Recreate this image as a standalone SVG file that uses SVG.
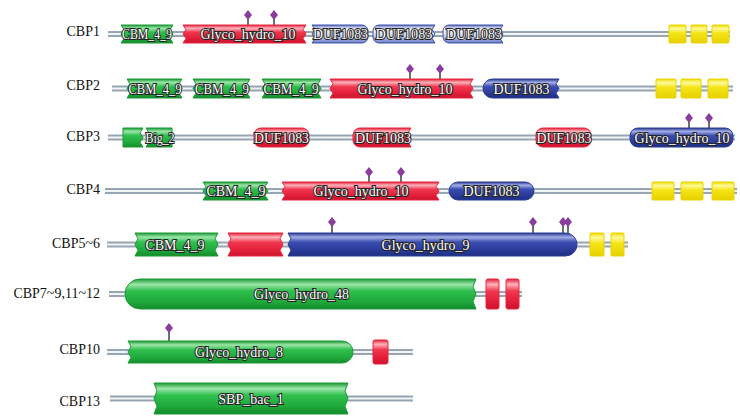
<svg xmlns="http://www.w3.org/2000/svg" width="740" height="418" viewBox="0 0 740 418">
<defs>
<linearGradient id="gG" x1="0" y1="0" x2="0" y2="1"><stop offset="0" stop-color="#1d9a36"/><stop offset="0.18" stop-color="#9be6a8"/><stop offset="0.4" stop-color="#2fbf4d"/><stop offset="0.75" stop-color="#1faa3c"/><stop offset="1" stop-color="#158a2e"/></linearGradient>
<linearGradient id="gR" x1="0" y1="0" x2="0" y2="1"><stop offset="0" stop-color="#e0203a"/><stop offset="0.18" stop-color="#ffb3bb"/><stop offset="0.4" stop-color="#f0384f"/><stop offset="0.75" stop-color="#e31d38"/><stop offset="1" stop-color="#c81530"/></linearGradient>
<linearGradient id="gB" x1="0" y1="0" x2="0" y2="1"><stop offset="0" stop-color="#24378c"/><stop offset="0.18" stop-color="#a3aee8"/><stop offset="0.4" stop-color="#3a4db0"/><stop offset="0.75" stop-color="#2a3b99"/><stop offset="1" stop-color="#1e2e80"/></linearGradient>
<linearGradient id="gL" x1="0" y1="0" x2="0" y2="1"><stop offset="0" stop-color="#5a6cc0"/><stop offset="0.22" stop-color="#ffffff"/><stop offset="0.55" stop-color="#d3daf5"/><stop offset="1" stop-color="#6a7cc8"/></linearGradient>
<linearGradient id="gY" x1="0" y1="0" x2="0" y2="1"><stop offset="0" stop-color="#f0dc00"/><stop offset="0.2" stop-color="#fffa9a"/><stop offset="0.45" stop-color="#f5e516"/><stop offset="1" stop-color="#e6d000"/></linearGradient>
<style>
.g{fill:url(#gG);stroke:#1a9a35;stroke-width:1}
.r{fill:url(#gR);stroke:#e8243e;stroke-width:1}
.b{fill:url(#gB);stroke:#2b3c96;stroke-width:1}
.l{fill:url(#gL);stroke:#3d50a8;stroke-width:1}
.y{fill:url(#gY);stroke:#e8d400;stroke-width:1}
.bb{stroke:#97a5b2;stroke-width:6;fill:none}
.bc{stroke:#f2f5f7;stroke-width:1.8;fill:none}
.rl{font-family:"Liberation Serif","Times New Roman",serif;font-size:14px;fill:#111;text-anchor:end}
.dl{font-family:"Liberation Serif","Times New Roman",serif;font-size:14px;fill:#fff;stroke:#222;stroke-width:2;paint-order:stroke;text-anchor:middle}
.st{stroke:#222;stroke-width:1.3}
.dm{fill:#8b3d9e}
</style>
</defs>
<rect width="740" height="418" fill="#fff"/>
<g id="labels">
<text class="rl" x="100" y="36">CBP1</text>
<text class="rl" x="100" y="90">CBP2</text>
<text class="rl" x="100" y="141">CBP3</text>
<text class="rl" x="100" y="194">CBP4</text>
<text class="rl" x="100" y="248">CBP5~6</text>
<text class="rl" x="100" y="298">CBP7~9,11~12</text>
<text class="rl" x="100" y="354">CBP10</text>
<text class="rl" x="100" y="406">CBP13</text>
</g>
<g id="connectors">
<path class="bb" d="M108,34H730M112,88.5H733M108,137.5H735M105,191H737M107,244.5H628M109,294H522M107,352H413M110,398.5H413"/>
<path class="bc" d="M108,34H730M112,88.5H733M108,137.5H735M105,191H737M107,244.5H628M109,294H522M107,352H413M110,398.5H413"/>
</g>
<g id="CBP1">
<path class="g" d="M121,25H173L170,29.5L173,34L170,38.5L173,43H121L124,38.5L121,34L124,29.5Z"/>
<text class="dl" x="147" y="39" textLength="50" lengthAdjust="spacingAndGlyphs">CBM_4_9</text>
<path class="st" d="M248,19V25M274,19V25"/>
<path class="dm" d="M248,10L252,15L248,20L244,15ZM274,10L278,15L274,20L270,15Z"/>
<path class="r" d="M183,25H306L303,29.5L306,34L303,38.5L306,43H183L186,38.5L183,34L186,29.5Z"/>
<text class="dl" x="248" y="39">Glyco_hydro_10</text>
<path class="l" d="M312,25H362A6,6 0 0 1 368,31V37A6,6 0 0 1 362,43H312L315,38.5L312,34L315,29.5Z"/>
<text class="dl" x="340.5" y="39" textLength="55" lengthAdjust="spacingAndGlyphs">DUF1083</text>
<path class="l" d="M379,25H435L432,29.5L435,34L432,38.5L435,43H379A6,6 0 0 1 373,37V31A6,6 0 0 1 379,25Z"/>
<text class="dl" x="404" y="39" textLength="57" lengthAdjust="spacingAndGlyphs">DUF1083</text>
<path class="l" d="M449,25H503L500,29.5L503,34L500,38.5L503,43H449A6,6 0 0 1 443,37V31A6,6 0 0 1 449,25Z"/>
<text class="dl" x="474" y="39" textLength="56" lengthAdjust="spacingAndGlyphs">DUF1083</text>
<rect class="y" x="669" y="25" width="17" height="18" rx="1"/>
<rect class="y" x="691" y="25" width="16" height="18" rx="1"/>
<rect class="y" x="712" y="25" width="17" height="18" rx="1"/>
</g>
<g id="CBP2">
<path class="g" d="M127,79H182L179,83.75L182,88.5L179,93.25L182,98H127L130,93.25L127,88.5L130,83.75Z"/>
<text class="dl" x="155" y="93.5" textLength="53" lengthAdjust="spacingAndGlyphs">CBM_4_9</text>
<path class="g" d="M193,79H250L247,83.75L250,88.5L247,93.25L250,98H193L196,93.25L193,88.5L196,83.75Z"/>
<text class="dl" x="222" y="93.5" textLength="54" lengthAdjust="spacingAndGlyphs">CBM_4_9</text>
<path class="g" d="M262,79H321L318,83.75L321,88.5L318,93.25L321,98H262L265,93.25L262,88.5L265,83.75Z"/>
<text class="dl" x="291" y="93.5" textLength="55" lengthAdjust="spacingAndGlyphs">CBM_4_9</text>
<path class="st" d="M410,73V79M440,73V79"/>
<path class="dm" d="M410,64L414,69L410,74L406,69ZM440,64L444,69L440,74L436,69Z"/>
<path class="r" d="M330,79H473L470,83.75L473,88.5L470,93.25L473,98H330L333,93.25L330,88.5L333,83.75Z"/>
<text class="dl" x="405" y="93.5">Glyco_hydro_10</text>
<path class="b" d="M492.5,79H559L556,83.75L559,88.5L556,93.25L559,98H492.5A9.5,9.5 0 0 1 492.5,79Z"/>
<text class="dl" x="521.5" y="93.5" textLength="56" lengthAdjust="spacingAndGlyphs">DUF1083</text>
<rect class="y" x="656" y="79" width="20" height="19" rx="1"/>
<rect class="y" x="681" y="79" width="20" height="19" rx="1"/>
<rect class="y" x="708" y="79" width="20" height="19" rx="1"/>
</g>
<g id="CBP3">
<path class="g" d="M123,128H143L140,132.75L143,137.5L140,142.25L143,147H123Z"/>
<path class="g" d="M146,128H172V147H146L149,142.25L146,137.5L149,132.75Z"/>
<text class="dl" x="160" y="142.5" textLength="29" lengthAdjust="spacingAndGlyphs">Big_2</text>
<rect class="r" x="254" y="128" width="55" height="19" rx="7"/>
<text class="dl" x="281.5" y="142.5" textLength="55" lengthAdjust="spacingAndGlyphs">DUF1083</text>
<path class="r" d="M360,128H411L408,132.75L411,137.5L408,142.25L411,147H360A7,7 0 0 1 353,140V135A7,7 0 0 1 360,128Z"/>
<text class="dl" x="383" y="142.5" textLength="56" lengthAdjust="spacingAndGlyphs">DUF1083</text>
<rect class="r" x="536" y="128" width="55" height="19" rx="7"/>
<text class="dl" x="564" y="142.5" textLength="55" lengthAdjust="spacingAndGlyphs">DUF1083</text>
<path class="st" d="M689,122V128M709,122V128"/>
<path class="dm" d="M689,113L693,118L689,123L685,118ZM709,113L713,118L709,123L705,118Z"/>
<rect class="b" x="630" y="128" width="103" height="19" rx="8"/>
<text class="dl" x="682" y="142.5">Glyco_hydro_10</text>
</g>
<g id="CBP4">
<path class="g" d="M203,182H268L265,186.5L268,191L265,195.5L268,200H203L206,195.5L203,191L206,186.5Z"/>
<text class="dl" x="236" y="196">CBM_4_9</text>
<path class="st" d="M369,176V182M401,176V182"/>
<path class="dm" d="M369,167L373,172L369,177L365,172ZM401,167L405,172L401,177L397,172Z"/>
<path class="r" d="M282,182H439L436,186.5L439,191L436,195.5L439,200H282L285,195.5L282,191L285,186.5Z"/>
<text class="dl" x="361" y="196">Glyco_hydro_10</text>
<rect class="b" x="449" y="182" width="85" height="18" rx="9"/>
<text class="dl" x="491.5" y="196" textLength="56" lengthAdjust="spacingAndGlyphs">DUF1083</text>
<rect class="y" x="652" y="182" width="22" height="18" rx="1"/>
<rect class="y" x="681" y="182" width="22" height="18" rx="1"/>
<rect class="y" x="712" y="182" width="22" height="18" rx="1"/>
</g>
<g id="CBP5-6">
<path class="g" d="M135,233H218L215,238.75L218,244.5L215,250.25L218,256H135L138,250.25L135,244.5L138,238.75Z"/>
<text class="dl" x="175" y="249.5">CBM_4_9</text>
<path class="r" d="M228,233H283L280,238.75L283,244.5L280,250.25L283,256H228L231,250.25L228,244.5L231,238.75Z"/>
<path class="st" d="M332,226V233M533,226V233M563,226V233M568,226V233"/>
<path class="dm" d="M332,217L336,222L332,227L328,222ZM533,217L537,222L533,227L529,222ZM563,217L567,222L563,227L559,222ZM568,217L572,222L568,227L564,222Z"/>
<path class="b" d="M288,233H565.5A11.5,11.5 0 0 1 565.5,256H288L291,250.25L288,244.5L291,238.75Z"/>
<text class="dl" x="425.5" y="249.5">Glyco_hydro_9</text>
<rect class="y" x="590" y="233" width="14" height="23" rx="1"/>
<rect class="y" x="611" y="233" width="13" height="23" rx="1"/>
</g>
<g id="CBP7-9_11-12">
<path class="g" d="M140,279H476L473,286.5L476,294L473,301.5L476,309H140A15,15 0 0 1 140,279Z"/>
<text class="dl" x="301.5" y="299">Glyco_hydro_48</text>
<rect class="r" x="486" y="279" width="13" height="30" rx="2"/>
<rect class="r" x="506" y="279" width="13" height="30" rx="2"/>
</g>
<g id="CBP10">
<path class="st" d="M169,332V341"/>
<path class="dm" d="M169,323L173,328L169,333L165,328Z"/>
<path class="g" d="M128,341H342A11,11 0 0 1 342,363H128L131,357.5L128,352L131,346.5Z"/>
<text class="dl" x="239" y="357">Glyco_hydro_8</text>
<rect class="r" x="373" y="340" width="15" height="24" rx="2"/>
</g>
<g id="CBP13">
<path class="g" d="M154,383H348L345,390.75L348,398.5L345,406.25L348,414H154L157,406.25L154,398.5L157,390.75Z"/>
<text class="dl" x="251" y="403.5">SBP_bac_1</text>
</g>
</svg>
